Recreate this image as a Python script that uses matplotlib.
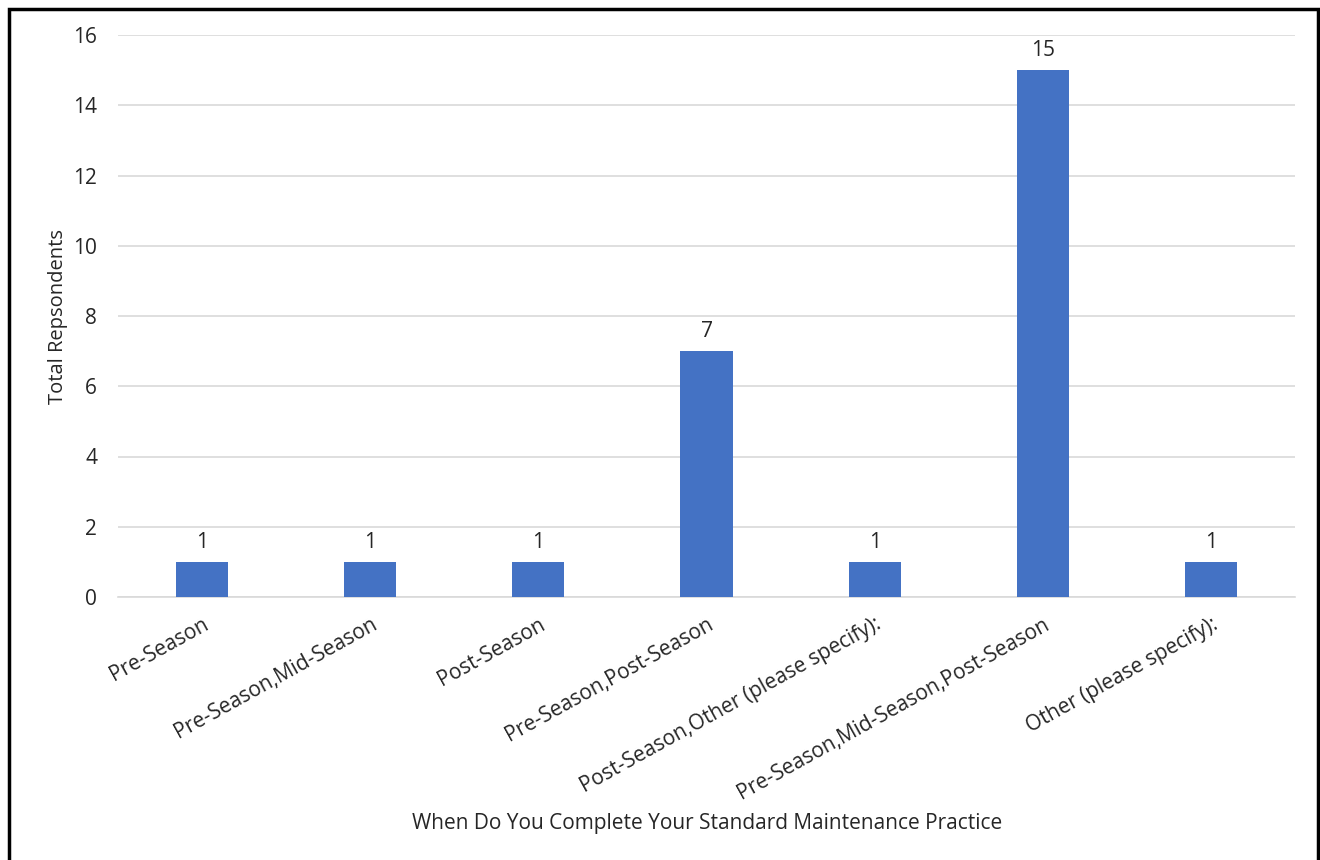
import matplotlib.pyplot as plt
from matplotlib.patches import Rectangle

categories = ['Pre-Season', 'Pre-Season,Mid-Season', 'Post-Season',
              'Pre-Season,Post-Season', 'Post-Season,Other (please specify):',
              'Pre-Season,Mid-Season,Post-Season', 'Other (please specify):']
respondents = [1, 1, 1, 7, 1, 15, 1]
y_ticks = [0, 2, 4, 6, 8, 10, 12, 14, 16]

plt.rcParams['font.family'] = ['Open Sans', 'DejaVu Sans']

fig = plt.figure(figsize=(13.2, 8.6), dpi=100)
ax = fig.add_axes([118 / 1320, 1 - 597 / 860, (1295 - 118) / 1320, (597 - 35) / 860])

x = range(len(categories))
bars = ax.bar(x, respondents, width=0.31, color='#4472C4', zorder=3)
for b, v in zip(bars, respondents):
    ax.text(b.get_x() + b.get_width() / 2, v + 0.25, str(v), ha='center', va='bottom',
            fontsize=15, color='#262626')

ax.set_xlim(-0.5, len(categories) - 0.5)
ax.set_ylim(0, 16)
ax.set_yticks(y_ticks)
ax.tick_params(axis='y', length=0, pad=15, labelsize=15, labelcolor='#262626')
ax.tick_params(axis='x', length=0, pad=12, labelsize=15, labelcolor='#262626')
ax.set_xticks(list(x))
ax.set_xticklabels(categories, rotation=29, ha='right', rotation_mode='anchor')
ax.yaxis.grid(True, color='#D9D9D9', linewidth=1.2, zorder=0)
for s in ['top', 'right', 'left']:
    ax.spines[s].set_visible(False)
ax.spines['bottom'].set_color('#D9D9D9')
ax.spines['bottom'].set_linewidth(1.2)

ax.set_ylabel('Total Repsondents', fontsize=14.5, color='#262626', labelpad=4)
fig.text(707 / 1320, 1 - 823 / 860, 'When Do You Complete Your Standard Maintenance Practice',
         ha='center', va='center', fontsize=15, color='#262626')

# frame around the chart
fig.patches.append(Rectangle((9 / 1320, -0.05), (1318 - 9) / 1320, 1.05 - 9 / 860,
                             transform=fig.transFigure, fill=False,
                             edgecolor='black', linewidth=2.5))

fig.savefig('out.png', dpi=100)
